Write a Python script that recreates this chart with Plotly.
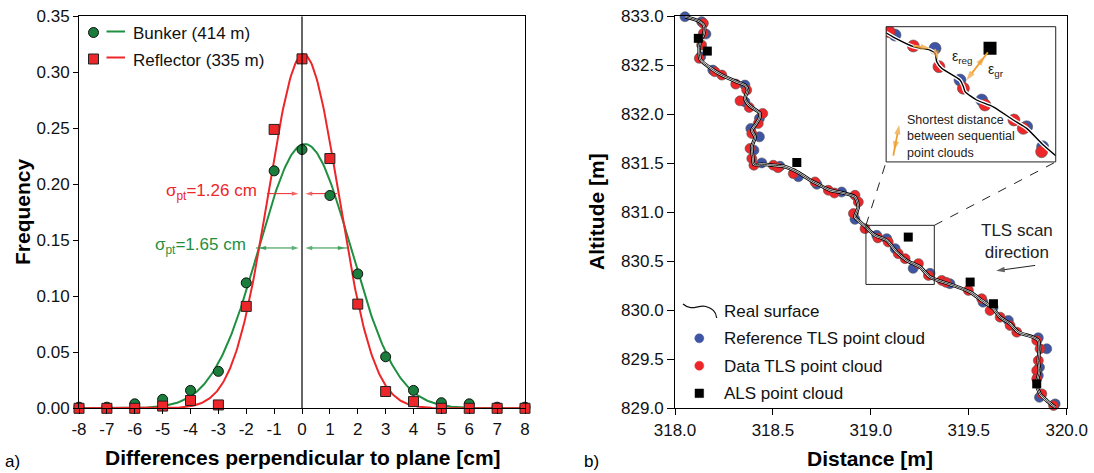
import numpy as np
import plotly.graph_objects as go

W, H = 1094, 473
FONT = "Liberation Sans, Arial, Helvetica, sans-serif"

# ---------------- Panel a) data ----------------
diff_cm = [-8, -7, -6, -5, -4, -3, -2, -1, 0, 1, 2, 3, 4, 5, 6, 7, 8]
bunker_freq = [0.001, 0.001, 0.004, 0.008, 0.016, 0.033, 0.112, 0.212, 0.231,
               0.190, 0.120, 0.046, 0.016, 0.005, 0.004, 0.001, 0.001]
reflector_freq = [0.000, 0.000, 0.000, 0.002, 0.007, 0.003, 0.091, 0.249, 0.312,
                  0.223, 0.093, 0.015, 0.006, 0.000, 0.000, 0.000, 0.000]
bunker_fit = dict(amp=0.236, mu=0.10, sigma=1.65)
reflector_fit = dict(amp=0.316, mu=0.05, sigma=1.26)
x_ticks_a = [-8, -7, -6, -5, -4, -3, -2, -1, 0, 1, 2, 3, 4, 5, 6, 7, 8]
x_ticklabels_a = ["-8", "-7", "-6", "-5", "-4", "-3", "-2", "-1", "0",
                  "1", "2", "3", "4", "5", "6", "7", "8"]
y_ticks_a = [0.00, 0.05, 0.10, 0.15, 0.20, 0.25, 0.30, 0.35]

# ---------------- Panel b) data ----------------
surface_x = [318.051, 318.128, 318.150, 318.145, 318.128, 318.124, 318.131, 318.196, 318.230,
             318.315, 318.357, 318.371, 318.357, 318.378, 318.434, 318.431, 318.409, 318.392,
             318.409, 318.392, 318.397, 318.403, 318.443, 318.502, 318.553, 318.623, 318.706,
             318.724, 318.792, 318.851, 318.919, 318.936, 318.919, 318.945, 318.970, 319.021,
             319.081, 319.132, 319.183, 319.251, 319.302, 319.353, 319.421, 319.507, 319.566,
             319.626, 319.660, 319.711, 319.753, 319.830, 319.855, 319.861, 319.855, 319.861,
             319.847, 319.864, 319.898, 319.941]
surface_y = [832.996, 832.945, 832.894, 832.809, 832.740, 832.622, 832.553, 832.451, 832.410,
             832.332, 832.298, 832.247, 832.162, 832.093, 832.009, 831.958, 831.889, 831.838,
             831.770, 831.667, 831.565, 831.490, 831.490, 831.480, 831.470, 831.412, 831.310,
             831.293, 831.225, 831.201, 831.156, 831.054, 830.952, 830.901, 830.857, 830.765,
             830.714, 830.594, 830.509, 830.441, 830.339, 830.298, 830.254, 830.185, 830.101,
             830.016, 829.930, 829.863, 829.777, 829.725, 829.692, 829.607, 829.487, 829.385,
             829.249, 829.147, 829.079, 829.010]

ref_tls_x = [318.051, 318.136, 318.158, 318.131, 318.193, 318.357, 318.357, 318.431, 318.387,
             318.431, 318.403, 318.443, 318.536, 318.630, 318.724, 318.851, 318.919, 319.030,
             319.081, 319.124, 319.216, 319.302, 319.404, 319.573, 319.624, 319.702, 319.855,
             319.898, 319.861, 319.855, 319.861, 319.941]
ref_tls_y = [832.996, 832.945, 832.819, 832.587, 832.451, 832.298, 832.127, 831.958, 831.855,
             831.770, 831.634, 831.504, 831.470, 831.363, 831.286, 831.207, 830.928, 830.765,
             830.731, 830.629, 830.428, 830.377, 830.271, 830.083, 830.029, 829.896, 829.719,
             829.607, 829.419, 829.334, 829.112, 829.045]

data_tls_x = [318.145, 318.145, 318.136, 318.124, 318.204, 318.239, 318.310, 318.366, 318.332,
              318.379, 318.448, 318.425, 318.392, 318.383, 318.392, 318.403, 318.502, 318.526,
              318.604, 318.715, 318.783, 318.814, 318.919, 318.936, 318.911, 318.970, 319.036,
              319.089, 319.140, 319.175, 319.243, 319.294, 319.362, 319.384, 319.498, 319.566,
              319.609, 319.660, 319.711, 319.745, 319.847, 319.864, 319.855, 319.847, 319.847,
              319.873, 319.933]
data_tls_y = [832.928, 832.826, 832.707, 832.571, 832.434, 832.400, 832.308, 832.247, 832.137,
              832.070, 832.009, 831.906, 831.804, 831.651, 831.549, 831.480, 831.480, 831.455,
              831.395, 831.310, 831.225, 831.197, 831.174, 831.105, 830.987, 830.833, 830.739,
              830.697, 830.578, 830.527, 830.476, 830.356, 830.305, 830.285, 830.203, 830.118,
              829.998, 829.930, 829.845, 829.777, 829.692, 829.607, 829.487, 829.385, 829.300,
              829.147, 829.028]

als_x = [318.119, 318.165, 318.622, 319.191, 319.507, 319.626, 319.847]
als_y = [832.775, 832.645, 831.508, 830.747, 830.288, 830.067, 829.249]

x_ticks_b = [318.0, 318.5, 319.0, 319.5, 320.0]
y_ticks_b = [829.0, 829.5, 830.0, 830.5, 831.0, 831.5, 832.0, 832.5, 833.0]

# zoom window on the profile and its inset (schematic, local 0..1 units)
zoom_box_x = [318.975, 319.324]
zoom_box_y = [830.264, 830.867]
inset_box_x = [319.078, 319.944]
inset_box_y = [831.514, 832.894]

inset_surface_u = [0.000, 0.063, 0.161, 0.259, 0.289, 0.299, 0.328, 0.436, 0.456, 0.466,
                   0.534, 0.632, 0.750, 0.829, 0.927, 1.000]
inset_surface_v = [0.955, 0.909, 0.852, 0.827, 0.803, 0.741, 0.692, 0.605, 0.556, 0.519,
                   0.457, 0.407, 0.309, 0.247, 0.124, 0.045]
inset_ref_u = [0.053, 0.289, 0.436, 0.564, 0.829, 0.923]
inset_ref_v = [0.938, 0.840, 0.605, 0.457, 0.259, 0.111]
inset_data_u = [0.019, 0.161, 0.312, 0.456, 0.583, 0.754, 0.809, 0.917]
inset_data_v = [0.963, 0.857, 0.704, 0.544, 0.420, 0.309, 0.247, 0.074]
inset_als_u = [0.613]
inset_als_v = [0.840]

GREEN_F = "#1b7d3b"
GREEN = "#1f8f40"
RED = "#ec2629"
BLUE = "#3e55a6"
ORANGE = "#f0a030"


def px(x):
    return x / W


def py(y):
    return 1 - y / H


def gauss(x, amp, mu, sigma):
    return amp * np.exp(-0.5 * ((x - mu) / sigma) ** 2)


fig = go.Figure()


def arrow(xs, ys, color, axes, width=1.0, head=7, at_start=False, at_end=True):
    """Line segment with arrow heads drawn by the marker 'arrow' symbol."""
    xa, ya = axes
    if at_end:
        fig.add_trace(go.Scatter(x=xs, y=ys, mode="lines+markers", cliponaxis=False,
                                 line=dict(color=color, width=width),
                                 marker=dict(symbol="arrow", angleref="previous", color=color,
                                             size=[0] * (len(xs) - 1) + [head],
                                             standoff=head / 2, line=dict(width=0)),
                                 xaxis=xa, yaxis=ya, hoverinfo="skip"))
    else:
        fig.add_trace(go.Scatter(x=xs, y=ys, mode="lines", cliponaxis=False,
                                 line=dict(color=color, width=width),
                                 xaxis=xa, yaxis=ya, hoverinfo="skip"))
    if at_start:
        fig.add_trace(go.Scatter(x=[xs[1], xs[0]], y=[ys[1], ys[0]], mode="markers",
                                 cliponaxis=False,
                                 marker=dict(symbol="arrow", angleref="previous", color=color,
                                             size=[0, head], standoff=head / 2,
                                             line=dict(width=0)),
                                 xaxis=xa, yaxis=ya, hoverinfo="skip"))


# ---------- panel a ----------
x_fit = np.linspace(-8, 8, 401)
fig.add_trace(go.Scatter(x=x_fit, y=gauss(x_fit, **bunker_fit), mode="lines",
                         line=dict(color=GREEN, width=2), xaxis="x", yaxis="y"))
fig.add_trace(go.Scatter(x=x_fit, y=gauss(x_fit, **reflector_fit), mode="lines",
                         line=dict(color=RED, width=2), xaxis="x", yaxis="y"))

yr = reflector_fit["amp"] * np.exp(-0.5)
yg = bunker_fit["amp"] * np.exp(-0.5)
for side in (-1, 1):
    arrow([side * reflector_fit["sigma"], 0], [yr, yr], RED, ("x", "y"))
    arrow([side * bunker_fit["sigma"], 0], [yg, yg], GREEN, ("x", "y"), at_start=True)

fig.add_trace(go.Scatter(x=diff_cm, y=bunker_freq, mode="markers", cliponaxis=False,
                         marker=dict(symbol="circle", size=10, color=GREEN_F,
                                     line=dict(color="#111", width=1)), xaxis="x", yaxis="y"))
fig.add_trace(go.Scatter(x=diff_cm, y=reflector_freq, mode="markers", cliponaxis=False,
                         marker=dict(symbol="square", size=10, color=RED,
                                     line=dict(color="#222", width=1)), xaxis="x", yaxis="y"))

# ---------- panel b ----------
fig.add_trace(go.Scatter(x=ref_tls_x, y=ref_tls_y, mode="markers", cliponaxis=False,
                         marker=dict(size=10, color=BLUE, line=dict(color="#555", width=0.6)),
                         xaxis="x2", yaxis="y2"))
fig.add_trace(go.Scatter(x=data_tls_x, y=data_tls_y, mode="markers", cliponaxis=False,
                         marker=dict(size=10, color=RED, line=dict(color="#555", width=0.6)),
                         xaxis="x2", yaxis="y2"))
for col, wd in (("#000", 3.6), ("#fff", 1.9), ("#000", 0.8)):
    fig.add_trace(go.Scatter(x=surface_x, y=surface_y, mode="lines", cliponaxis=False,
                             line=dict(color=col, width=wd, shape="spline", smoothing=0.7),
                             xaxis="x2", yaxis="y2"))
fig.add_trace(go.Scatter(x=als_x, y=als_y, mode="markers", cliponaxis=False,
                         marker=dict(symbol="square", size=9, color="#000"),
                         xaxis="x2", yaxis="y2"))
# TLS scan direction arrow
arrow([319.839, 319.617], [830.458, 830.397], "#222", ("x2", "y2"), head=9)

# ---------- inset ----------
fig.add_trace(go.Scatter(x=inset_ref_u, y=inset_ref_v, mode="markers",
                         marker=dict(size=12, color=BLUE, line=dict(color="#555", width=0.6)),
                         xaxis="x3", yaxis="y3"))
fig.add_trace(go.Scatter(x=inset_data_u, y=inset_data_v, mode="markers",
                         marker=dict(size=12, color=RED, line=dict(color="#555", width=0.6)),
                         xaxis="x3", yaxis="y3"))
for col, wd in (("#fff", 4.0), ("#000", 1.4)):
    fig.add_trace(go.Scatter(x=inset_surface_u, y=inset_surface_v, mode="lines",
                             line=dict(color=col, width=wd, shape="spline", smoothing=0.6),
                             xaxis="x3", yaxis="y3"))
fig.add_trace(go.Scatter(x=inset_als_u, y=inset_als_v, mode="markers",
                         marker=dict(symbol="square", size=13, color="#000"),
                         xaxis="x3", yaxis="y3"))
arrow([0.161, 0.289], [0.857, 0.835], ORANGE, ("x3", "y3"), width=1.8, head=10)
arrow([0.289, 0.312], [0.835, 0.715], ORANGE, ("x3", "y3"), width=1.8, head=10)
arrow([0.600, 0.456], [0.810, 0.574], ORANGE, ("x3", "y3"), width=1.8, head=10, at_start=True)
arrow([0.043, 0.083], [0.045, 0.309], ORANGE, ("x3", "y3"), width=1.8, head=10, at_start=True)

shapes = []
annotations = []


def note(x, y, text, xref="paper", yref="paper", xanchor="center", yanchor="middle",
         size=17, color="#111", **kw):
    annotations.append(dict(x=x, y=y, xref=xref, yref=yref, text=text, showarrow=False,
                            xanchor=xanchor, yanchor=yanchor,
                            font=dict(family=FONT, size=size, color=color), **kw))


# vertical zero line panel a
shapes.append(dict(type="line", xref="x", yref="y", x0=0, x1=0, y0=0, y1=0.35,
                   line=dict(color="#000", width=1.2)))

note(-reflector_fit["sigma"] - 0.3, yr, "σ<sub>pt</sub>=1.26 cm", xref="x", yref="y",
     xanchor="right", color=RED, yshift=2)
note(-bunker_fit["sigma"] - 0.3, yg, "σ<sub>pt</sub>=1.65 cm", xref="x", yref="y",
     xanchor="right", color=GREEN, yshift=2)

# legend a
shapes.append(dict(type="circle", xref="paper", yref="paper", x0=px(88.5), x1=px(98.5),
                   y0=py(37.5), y1=py(27.5), fillcolor=GREEN_F, line=dict(color="#111", width=1)))
shapes.append(dict(type="line", xref="paper", yref="paper", x0=px(106.5), x1=px(125),
                   y0=py(31.5), y1=py(31.5), line=dict(color=GREEN, width=2)))
shapes.append(dict(type="rect", xref="paper", yref="paper", x0=px(88.5), x1=px(98.5),
                   y0=py(64), y1=py(54), fillcolor=RED, line=dict(color="#222", width=1)))
shapes.append(dict(type="line", xref="paper", yref="paper", x0=px(106.5), x1=px(125),
                   y0=py(57.5), y1=py(57.5), line=dict(color=RED, width=2)))
note(px(131), py(33), "Bunker (414 m)", xanchor="left")
note(px(131), py(60), "Reflector (335 m)", xanchor="left")

# zoom box, connectors, inset box
shapes.append(dict(type="rect", xref="x2", yref="y2", x0=zoom_box_x[0], x1=zoom_box_x[1],
                   y0=zoom_box_y[0], y1=zoom_box_y[1], line=dict(color="#222", width=1)))
shapes.append(dict(type="line", xref="x2", yref="y2", x0=zoom_box_x[0], y0=zoom_box_y[1],
                   x1=inset_box_x[0], y1=inset_box_y[0], line=dict(color="#222", width=1, dash="dash")))
shapes.append(dict(type="line", xref="x2", yref="y2", x0=zoom_box_x[1], y0=zoom_box_y[1],
                   x1=inset_box_x[1], y1=inset_box_y[0], line=dict(color="#222", width=1, dash="dash")))
shapes.append(dict(type="rect", xref="x2", yref="y2", x0=inset_box_x[0], x1=inset_box_x[1],
                   y0=inset_box_y[0], y1=inset_box_y[1], line=dict(color="#222", width=1)))

note(0.375, 0.775, "ε<sub>reg</sub>", xref="x3", yref="y3", xanchor="left", size=14, color="#222")
note(0.590, 0.680, "ε<sub>gr</sub>", xref="x3", yref="y3", xanchor="left", size=14, color="#222")
note(0.112, 0.185, "Shortest distance<br>between sequential<br>point clouds", xref="x3", yref="y3",
     xanchor="left", size=12.5, color="#222", align="left")

note(319.746, 830.70, "TLS scan<br>direction", xref="x2", yref="y2", color="#222", align="center")

# legend b
wave = (f"M {px(683)},{py(304)} C {px(692)},{py(312)} {px(699)},{py(304)} {px(706)},{py(306.5)}"
        f" C {px(712)},{py(308.5)} {px(716)},{py(311)} {px(716.7)},{py(318)}")
shapes.append(dict(type="path", xref="paper", yref="paper", path=wave,
                   line=dict(color="#111", width=1.3)))
shapes.append(dict(type="circle", xref="paper", yref="paper", x0=px(694.8), x1=px(703.8),
                   y0=py(342.8), y1=py(333.8), fillcolor=BLUE, line=dict(color=BLUE, width=0.5)))
shapes.append(dict(type="circle", xref="paper", yref="paper", x0=px(694.8), x1=px(703.8),
                   y0=py(370.2), y1=py(361.2), fillcolor=RED, line=dict(color=RED, width=0.5)))
shapes.append(dict(type="rect", xref="paper", yref="paper", x0=px(695), x1=px(703.6),
                   y0=py(397.6), y1=py(389), fillcolor="#000", line=dict(color="#000", width=0.5)))
for txt, yy in (("Real surface", 311), ("Reference TLS point cloud", 338.5),
                ("Data TLS point cloud", 366), ("ALS point cloud", 393.5)):
    note(px(722), py(yy), txt, xanchor="left")

# axis titles and panel labels
note(px(23), py(212), "<b>Frequency</b>", textangle=-90, size=21, color="#000")
note(px(302.5), py(457), "<b>Differences perpendicular to plane [cm]</b>", size=21, color="#000")
note(px(597), py(212), "<b>Altitude [m]</b>", textangle=-90, size=21, color="#000")
note(px(870), py(458), "<b>Distance [m]</b>", size=21, color="#000")
note(px(3), py(461), "a)", xanchor="left", color="#000")
note(px(582), py(461), "b)", xanchor="left", color="#000")

tickfont = dict(family=FONT, size=17, color="#111")
ydom = [1 - 408.3 / H, 1 - 16.3 / H]
common = dict(showline=True, linecolor="#000", linewidth=1, mirror=True, ticks="outside",
              tickcolor="#000", showgrid=False, zeroline=False, tickfont=tickfont,
              automargin=False)

fig.update_layout(
    template="none",
    width=W, height=H, margin=dict(l=0, r=0, t=0, b=0, pad=0, autoexpand=False),
    paper_bgcolor="white", plot_bgcolor="white", showlegend=False, hovermode=False,
    xaxis=dict(domain=[79 / W, 525 / W], range=[-8, 8], tickvals=x_ticks_a,
               ticktext=x_ticklabels_a, ticklen=5, anchor="y", **common),
    yaxis=dict(domain=ydom, range=[0, 0.35], tickvals=y_ticks_a, tickformat=".2f", ticklen=5,
               anchor="x", **common),
    xaxis2=dict(domain=[675 / W, 1066.7 / W], range=[318, 320], tickvals=x_ticks_b,
                tickformat=".1f", ticklen=6, anchor="y2", **common),
    yaxis2=dict(domain=ydom, range=[829, 833], tickvals=y_ticks_b, tickformat=".1f", ticklen=7,
                anchor="x2", **common),
    xaxis3=dict(domain=[886 / W, 1055.7 / W], range=[0, 1], visible=False, anchor="y3",
                automargin=False),
    yaxis3=dict(domain=[1 - 161.7 / H, 1 - 26.7 / H], range=[0, 1], visible=False, anchor="x3",
                automargin=False),
    shapes=shapes, annotations=annotations,
)

fig.write_html("out.html", config={"displayModeBar": False, "staticPlot": True},
               post_script="document.body.style.margin='0px';document.body.style.overflow='hidden';")
